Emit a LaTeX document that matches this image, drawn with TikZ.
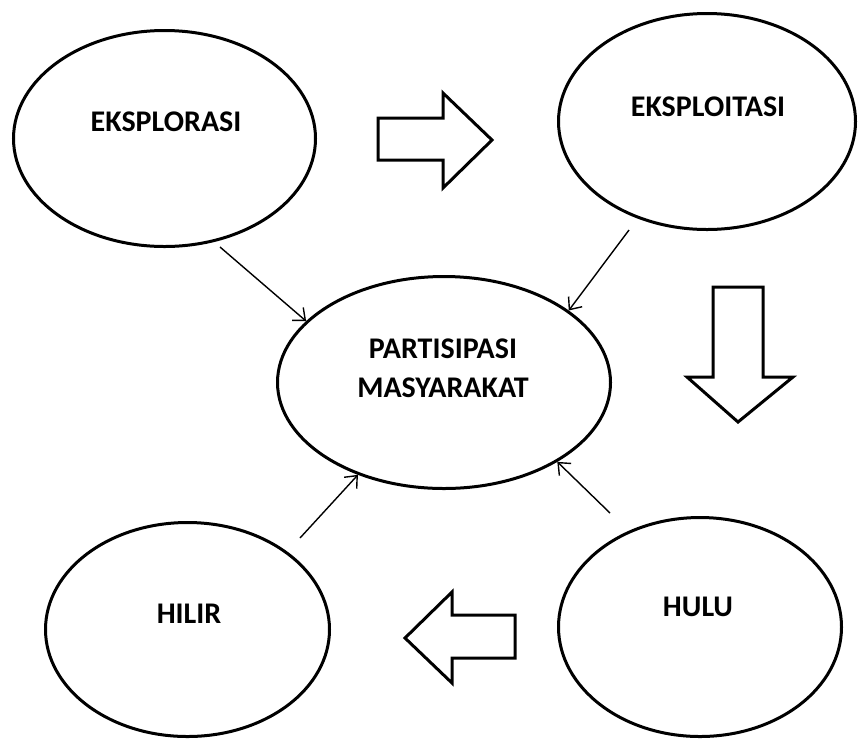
\documentclass[tikz,border=0pt]{standalone}
\usepackage{fontspec}
\setmainfont{Carlito}
\usetikzlibrary{shapes.geometric,arrows.meta,positioning}

\tikzset{
  blob/.style={draw, ellipse, line width=3pt, inner sep=0pt},
  caption/.style={font=\fontsize{30}{39}\selectfont\bfseries, align=center, inner sep=0pt},
  fat/.style={draw, line width=3pt, line join=miter, fill=white},
  feed/.style={->, line width=1.4pt, >={Straight Barb[length=10pt,width=17pt]}},
}

\begin{document}
\begin{tikzpicture}[x=1pt, y=-1pt]
    \useasboundingbox (0,0) rectangle (858,740);

    % Ellipses
    \node[blob, minimum width=302pt, minimum height=216pt] (eksplorasi) at (164.5,138.5) {};
    \node[blob, minimum width=297pt, minimum height=216pt] (eksploitasi) at (707,121.5) {};
    \node[blob, minimum width=333pt, minimum height=212pt] (partisipasi) at (444,382.5) {};
    \node[blob, minimum width=284pt, minimum height=214pt] (hilir) at (187.5,629.5) {};
    \node[blob, minimum width=283pt, minimum height=219pt] (hulu) at (700,627) {};

    % Labels
    \node[caption] (txtEksplorasi) at (166,122) {EKSPLORASI};
    \node[caption] (txtEksploitasi) at (708,107) {EKSPLOITASI};
    \node[caption] (txtPartisipasi) at (443,368.5) {PARTISIPASI\\MASYARAKAT};
    \node[caption] (txtHilir) at (189,614) {HILIR};
    \node[caption] (txtHulu) at (698,607) {HULU};

    % Block arrows
    \draw[fat] (378,118) -- (443,118) -- (443,93) -- (492,140) -- (443,188) -- (443,160) -- (378,160) -- cycle;
    \draw[fat] (713,287) -- (763,287) -- (763,377) -- (793,377) -- (738,422) -- (687,377) -- (713,377) -- cycle;
    \draw[fat] (515,615) -- (452,615) -- (452,592) -- (405,638) -- (452,683) -- (452,658) -- (515,658) -- cycle;

    % Thin arrows
    \coordinate (fromEksplorasi) at (220,247);
    \coordinate (fromEksploitasi) at (629,230);
    \coordinate (fromHilir) at (300,538);
    \coordinate (fromHulu) at (610,513);
    \draw[feed] (fromEksplorasi) -- (partisipasi.156);
    \draw[feed] (fromEksploitasi) -- (partisipasi.30);
    \draw[feed] (fromHilir) -- (partisipasi.227);
    \draw[feed] (fromHulu) -- (partisipasi.325);
\end{tikzpicture}
\end{document}
